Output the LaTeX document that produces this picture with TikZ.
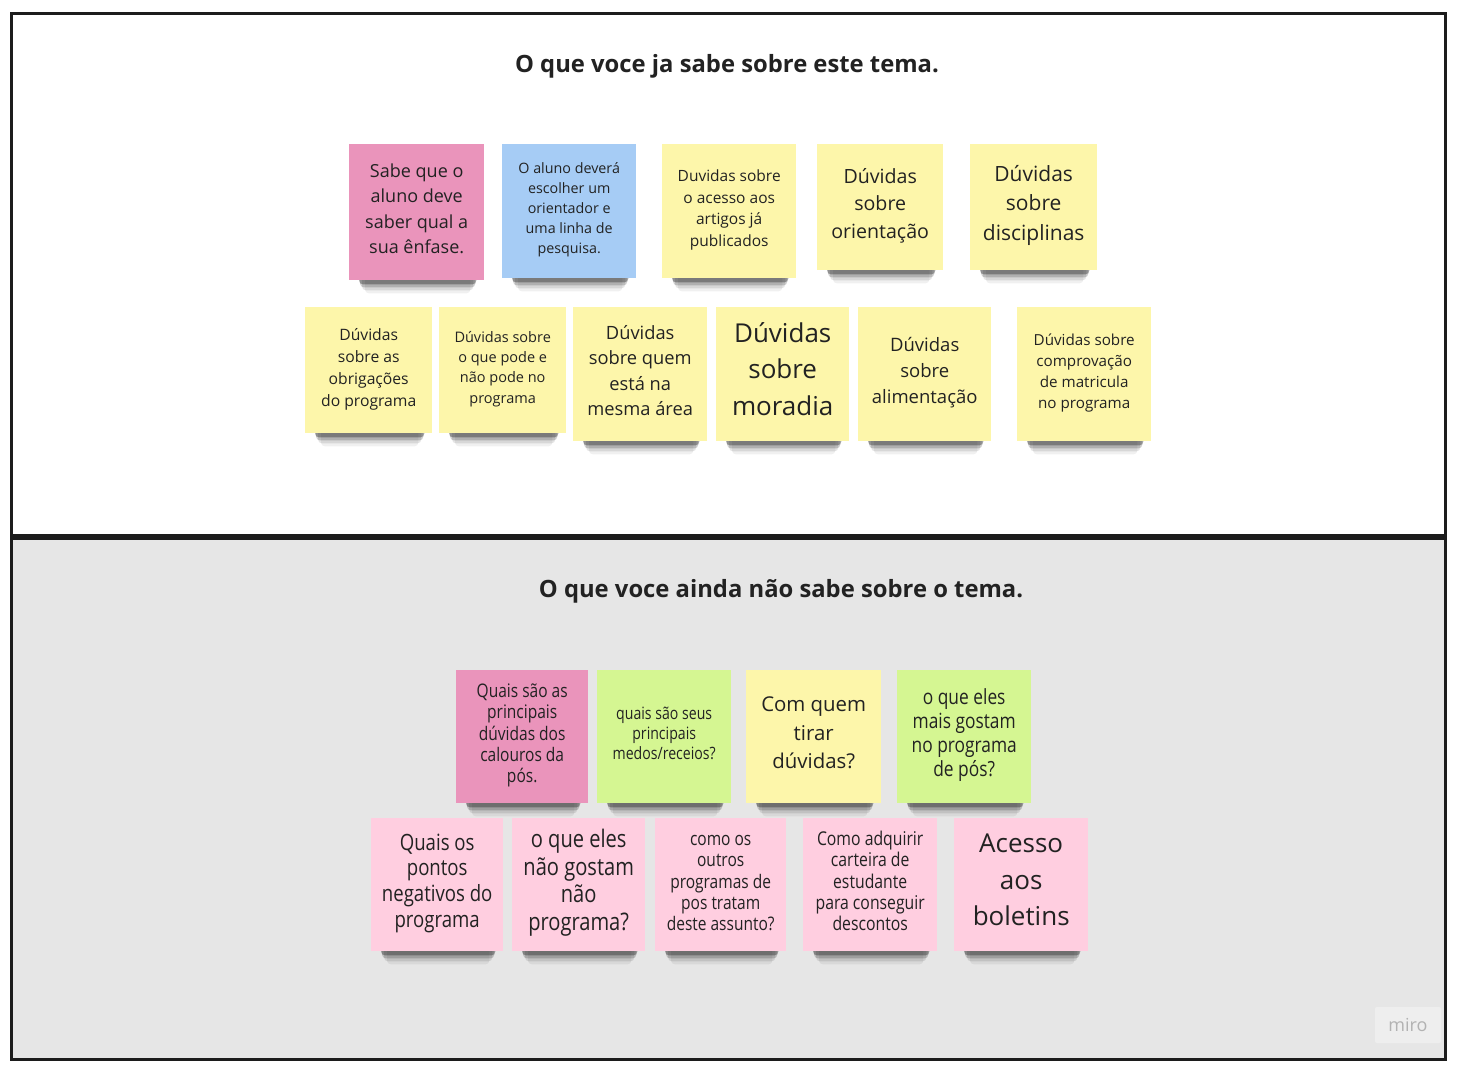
\documentclass[tikz,border=0pt]{standalone}
\usepackage{fontspec}
\setmainfont{Open Sans}
\newfontfamily\condfont[FakeStretch=0.83]{Open Sans}
\pgfdeclarelayer{base}
\pgfdeclarelayer{shade}
\pgfsetlayers{base,shade,main}
\definecolor{cpink}{HTML}{EA94BB}
\definecolor{clpink}{HTML}{FFCEE0}
\definecolor{cblue}{HTML}{A6CCF5}
\definecolor{cyellow}{HTML}{FDF6AA}
\definecolor{cgreen}{HTML}{D5F692}
\definecolor{notetext}{HTML}{222222}
\definecolor{framec}{HTML}{1C1C1C}
\definecolor{lowbg}{HTML}{E6E6E6}
\newcommand\fs[1]{\fontsize{#1}{\dimexpr #1pt*14/10\relax}\selectfont}
\newcommand\cfs[2]{\fontsize{#1}{#2}\selectfont}
\newcommand\tp{\rule{0pt}{1.0em}}
\newcommand\bt{\rule[-0.64em]{0pt}{0pt}}
\tikzset{
  note/.style={anchor=north west, inner sep=0pt, align=center, text=notetext},
  sz/.style 2 args={minimum width=#1pt, minimum height=#2pt},
  title/.style={font=\bfseries\fs{23.8}, text=notetext},
  shadestrip/.style={fill=black, rounded corners=4pt},
}
\begin{document}
\begin{tikzpicture}[x=1pt,y=-1pt]
\useasboundingbox (0,0) rectangle (1465,1066);
\begin{pgfonlayer}{base}
\fill[white] (0,0) rectangle (1465,1066);
\fill[white] (11.5,13.5) rectangle (1445.5,536.5);
\fill[lowbg] (11.5,536.5) rectangle (1445.5,1059.5);
\draw[framec, line width=3pt] (11.5,13.5) rectangle (1445.5,1059.5);
\draw[framec, line width=6pt] (11.5,536.5) -- (1445.5,536.5);
\end{pgfonlayer}
% titles
\node[title] (t1) at (727,66) {O que voce ja sabe sobre este tema.};
\node[title] (t2) at (781,591) {O que voce ainda não sabe sobre o tema.};
% row 1
\node[note, fill=cpink, sz={135}{136}, font=\fs{18}] (n1) at (349,144) {\tp Sabe que o\\aluno deve\\saber qual a\\sua ênfase.\bt};
\node[note, fill=cblue, sz={134}{134}, font=\fs{14.3}] (n2) at (502,144) {\tp O aluno deverá\\escolher um\\orientador e\\uma linha de\\pesquisa.\bt};
\node[note, fill=cyellow, sz={134}{134}, font=\fs{15.5}] (n3) at (662,144) {\tp Duvidas sobre\\o acesso aos\\artigos já\\publicados\bt};
\node[note, fill=cyellow, sz={126}{126}, font=\fs{19.6}] (n4) at (817,144) {\tp Dúvidas\\sobre\\orientação\bt};
\node[note, fill=cyellow, sz={127}{126}, font=\fs{21}] (n5) at (970,144) {\tp Dúvidas\\sobre\\disciplinas\bt};
% row 2
\node[note, fill=cyellow, sz={127}{126}, font=\fs{15.7}] (n6) at (305,307) {\tp Dúvidas\\sobre as\\obrigações\\do programa\bt};
\node[note, fill=cyellow, sz={127}{126}, font=\fs{14.5}] (n7) at (439,307) {\tp Dúvidas sobre\\o que pode e\\não pode no\\programa\bt};
\node[note, fill=cyellow, sz={134}{134}, font=\fs{18.3}] (n8) at (573,307) {\tp Dúvidas\\sobre quem\\está na\\mesma área\bt};
\node[note, fill=cyellow, sz={133}{134}, font=\fs{26}] (n9) at (716,307) {\tp Dúvidas\\sobre\\moradia\bt};
\node[note, fill=cyellow, sz={133}{134}, font=\fs{18.5}] (n10) at (858,307) {\tp Dúvidas\\sobre\\alimentação\bt};
\node[note, fill=cyellow, sz={134}{134}, font=\fs{15.2}] (n11) at (1017,307) {\tp Dúvidas sobre\\comprovação\\de matricula\\no programa\bt};
% row 3
\node[note, fill=cpink, sz={132}{133}, font=\condfont\cfs{18.7}{21.2}] (n12) at (456,670) {\tp Quais são as\\principais\\dúvidas dos\\calouros da\\pós.\bt};
\node[note, fill=cgreen, sz={134}{133}, font=\condfont\cfs{17}{20}] (n13) at (597,670) {\tp quais são seus\\principais\\medos/receios?\bt};
\node[note, fill=cyellow, sz={135}{133}, font=\fs{20.4}] (n14) at (746,670) {\tp Com quem\\tirar\\dúvidas?\bt};
\node[note, fill=cgreen, sz={134}{133}, font=\condfont\cfs{20.9}{24}] (n15) at (897,670) {\tp o que eles\\mais gostam\\no programa\\de pós?\bt};
% row 4
\node[note, fill=clpink, sz={132}{133}, font=\condfont\cfs{22.4}{25.7}] (n16) at (371,818) {\tp Quais os\\pontos\\negativos do\\programa\bt};
\node[note, fill=clpink, sz={133}{133}, font=\condfont\cfs{24.2}{27.7}] (n17) at (512,818) {\tp o que eles\\não gostam\\não\\programa?\bt};
\node[note, fill=clpink, sz={131}{133}, font=\condfont\cfs{18.7}{21.25}] (n18) at (655,818) {\tp como os\\outros\\programas de\\pos tratam\\deste assunto?\bt};
\node[note, fill=clpink, sz={134}{133}, font=\condfont\cfs{19}{21.25}] (n19) at (803,818) {\tp Como adquirir\\carteira de\\estudante\\para conseguir\\descontos\bt};
\node[note, fill=clpink, sz={134}{133}, font=\fs{26}] (n20) at (954,818) {\tp Acesso\\aos\\boletins\bt};
% shadows
\begin{pgfonlayer}{shade}
\foreach \n in {n1,n2,n3,n4,n5,n6,n7,n8,n9,n10,n11,n12,n13,n14,n15,n16,n17,n18,n19,n20} {
  \fill[shadestrip, opacity=0.06] ([xshift=16pt,yshift=20pt]\n.south west) rectangle ([xshift=-14pt,yshift=-13pt]\n.south east);
  \fill[shadestrip, opacity=0.10] ([xshift=13pt,yshift=20pt]\n.south west) rectangle ([xshift=-11pt,yshift=-10pt]\n.south east);
  \fill[shadestrip, opacity=0.18] ([xshift=11pt,yshift=20pt]\n.south west) rectangle ([xshift=-9pt,yshift=-7pt]\n.south east);
  \fill[shadestrip, opacity=0.30] ([xshift=10pt,yshift=20pt]\n.south west) rectangle ([xshift=-8pt,yshift=-4pt]\n.south east);
}
\end{pgfonlayer}
% miro watermark
\node[fill=white, fill opacity=0.35, text opacity=1, text=gray!60, font=\fs{18}, minimum width=66pt, minimum height=36pt, inner sep=0pt, rounded corners=2pt] (miro) at (1408,1025) {miro};
\end{tikzpicture}
\end{document}
